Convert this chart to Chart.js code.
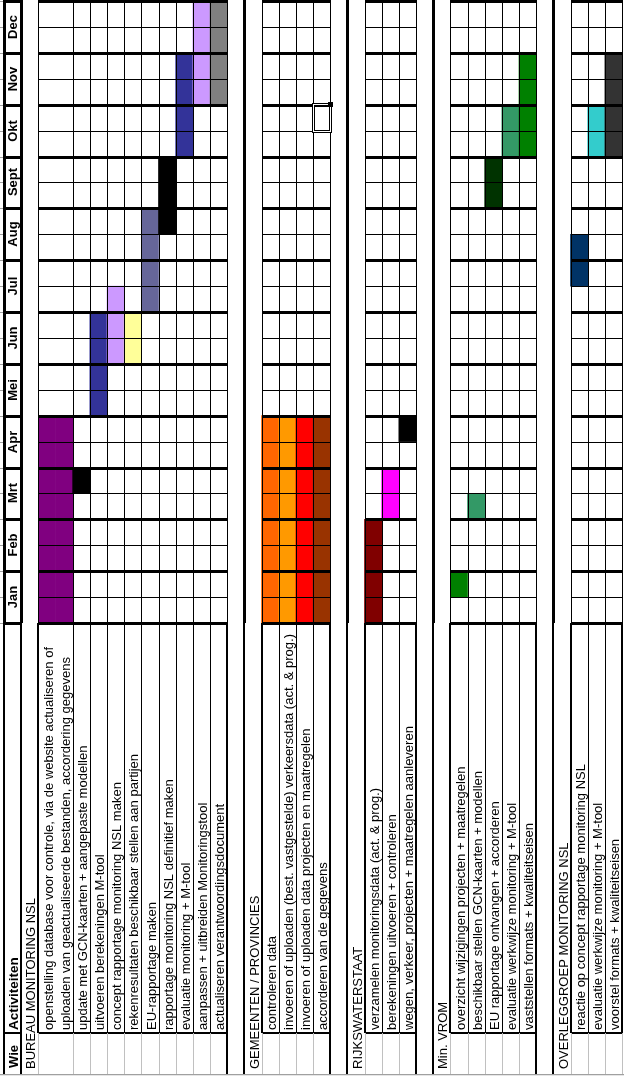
<!DOCTYPE html>
<html>
<head>
<meta charset="utf-8">
<title>Planning monitoring NSL</title>
<script src="https://cdn.jsdelivr.net/npm/chart.js"></script>
<style>
    html, body { margin: 0; padding: 0; background: #fff; }
    canvas { display: block; }
</style>
</head>
<body>
<canvas id="planningChart" width="624" height="1076"></canvas>
<script>
const months = ["Jan", "Feb", "Mrt", "Apr", "Mei", "Jun", "Jul", "Aug", "Sept", "Okt", "Nov", "Dec"];
const columnTitles = ["Wie", "Activiteiten"];

// one entry per spreadsheet row (the long first task wraps over two rows)
const rowLabels = [
    "",
    "BUREAU MONITORING NSL",
    "openstelling database voor controle, via de website actualiseren of",
    "uploaden van geactualiseerde bestanden, accordering gegevens",
    "update met GCN-kaarten + aangepaste modellen",
    "uitvoeren berekeningen M-tool",
    "concept rapportage monitoring NSL maken",
    "rekenresultaten beschikbaar stellen aan partijen",
    "EU-rapportage maken",
    "rapportage monitoring NSL definitief maken",
    "evaluatie monitoring + M-tool",
    "aanpassen + uitbreiden Monitoringstool",
    "actualiseren verantwoordingsdocument",
    "",
    "GEMEENTEN / PROVINCIES",
    "controleren data",
    "invoeren of uploaden (best. vastgestelde) verkeersdata (act. & prog.)",
    "invoeren of uploaden data projecten en maatregelen",
    "accorderen van de gegevens",
    "",
    "RIJKSWATERSTAAT",
    "verzamelen monitoringsdata (act. & prog.)",
    "berekeningen uitvoeren + controleren",
    "wegen, verkeer, projecten + maatregelen aanleveren",
    "",
    "Min. VROM",
    "overzicht wijzigingen projecten + maatregelen",
    "beschikbaar stellen GCN-kaarten + modellen",
    "EU rapportage ontvangen + accorderen",
    "evaluatie werkwijze monitoring + M-tool",
    "vaststellen formats + kwaliteitseisen",
    "",
    "OVERLEGGROEP MONITORING NSL",
    "reactie op concept rapportage monitoring NSL",
    "evaluatie werkwijze monitoring + M-tool",
    "voorstel formats + kwaliteitseisen"
];
const rowKinds = [
    "head", "group", "task", "wrap", "task", "task", "task", "task", "task", "task", "task", "task", "task",
    "blank", "group", "task", "task", "task", "task",
    "blank", "group", "task", "task", "task",
    "blank", "group", "task", "task", "task", "task", "task",
    "blank", "group", "task", "task", "task"
];

// months counted from the start of January (0.5 = half a month)
const barStart = [null, null, 0, 0, 2.5, 4, 5, 5, 6, 7.5, 9, 10, 10, null, null, 0, 0, 0, 0, null, null, 0, 2, 3.5, null, null, 0.5, 2, 8, 9, 9, null, null, 6.5, 9, 9];
const barEnd = [null, null, 4, 4, 3, 6, 6.5, 6, 8, 9, 11, 12, 12, null, null, 4, 4, 4, 4, null, null, 2, 3, 4, null, null, 1, 2.5, 9, 10, 11, null, null, 7.5, 10, 11];
const barColors = [
    null, null, "#800080", "#800080", "#000000", "#333399", "#CC99FF", "#FFFF99", "#666699", "#000000", "#333399", "#CC99FF", "#808080",
    null, null, "#FF6600", "#FF9900", "#FF0000", "#993300",
    null, null, "#800000", "#FF00FF", "#000000",
    null, null, "#008000", "#339966", "#003300", "#339966", "#008000",
    null, null, "#003366", "#33CCCC", "#333333"
];
// active cell left selected in the sheet
const selectedCell = { row: 18, from: 9.5, to: 10 };

const FONT = '13px "Liberation Sans", Arial, sans-serif';
const BOLD = 'bold 13px "Liberation Sans", Arial, sans-serif';
const TEXT_END = 1033;
const WIE_END = 1074;

function vtext(ctx, str, x, y, font, align) {
    ctx.save();
    ctx.translate(x, y);
    ctx.rotate(-Math.PI / 2);
    ctx.font = font;
    ctx.textAlign = align || "left";
    ctx.textBaseline = "alphabetic";
    ctx.fillStyle = "#000";
    ctx.fillText(str, 0, 0);
    ctx.restore();
}

const sheetPlugin = {
    id: "sheet",
    beforeDraw(chart) {
        const ctx = chart.ctx;
        ctx.save();
        ctx.fillStyle = "#fff";
        ctx.fillRect(0, 0, chart.width, chart.height);
        ctx.restore();
    },
    afterDatasetsDraw(chart) {
        const ctx = chart.ctx;
        const xs = chart.scales.x, ys = chart.scales.y;
        const edge = i => Math.round(xs.getPixelForValue(i - 0.5));
        const my = v => Math.round(ys.getPixelForValue(v));
        const top = my(12), bottom = my(0);
        const isCell = k => k === "task" || k === "wrap";
        const n = rowLabels.length;

        const hline = (x0, x1, y, w, c) => { ctx.fillStyle = c; ctx.fillRect(x0, y - Math.floor(w / 2), x1 - x0, w); };
        const vline = (x, y0, y1, w, c) => { ctx.fillStyle = c; ctx.fillRect(x - Math.floor(w / 2), y0, w, y1 - y0); };

        ctx.save();

        // month grid
        for (let i = 0; i < n; i++) {
            const k = rowKinds[i];
            const x0 = edge(i), x1 = edge(i + 1) + 1;
            if (isCell(k)) {
                for (let m = 0; m < 12; m++) hline(x0, x1, my(m + 0.5), 1, "#000");
            }
            if (isCell(k) || k === "head") {
                for (let m = 0; m <= 12; m++) hline(x0, x1, my(m), 3, "#000");
                hline(x0, x1, TEXT_END, 2, "#000");
            }
        }

        // row borders
        for (let b = 0; b <= n; b++) {
            const left = rowKinds[b - 1], right = rowKinds[b];
            if (right === "wrap") continue;
            const x = edge(b);
            const thickTop = b === 0 || right === "group";
            vline(x, top - 1, bottom, thickTop ? 3 : 1, "#000");
            const thickText = !isCell(left) || !isCell(right);
            vline(x, bottom, TEXT_END, thickText ? 2 : 1, "#000");
            if (b <= 1 || left === "blank" || right === "blank") {
                vline(x, TEXT_END, WIE_END, 2, "#000");
            } else {
                vline(x, TEXT_END, WIE_END, 1, "#c0c0c0");
            }
        }

        // sheet edge marks
        for (let h = 0; h <= 24; h++) hline(0, edge(0) - 1, my(h / 2), 1, "#a0a0a0");
        hline(0, chart.width, WIE_END, 1, "#a0a0a0");
        ctx.fillStyle = "#e6e6e6";
        ctx.fillRect(0, WIE_END + 1, chart.width, chart.height - WIE_END - 1);

        // selected cell
        const s = selectedCell;
        const sx0 = edge(s.row), sx1 = edge(s.row + 1), sy0 = my(s.to), sy1 = my(s.from);
        ctx.strokeStyle = "#000";
        ctx.lineWidth = 3;
        ctx.strokeRect(sx0 + 0.5, sy0 - 0.5, sx1 - sx0, sy1 - sy0 + 1);
        ctx.strokeStyle = "#fff";
        ctx.lineWidth = 1;
        ctx.strokeRect(sx0 + 0.5, sy0 - 0.5, sx1 - sx0, sy1 - sy0 + 1);
        ctx.fillStyle = "#000";
        ctx.fillRect(sx1 - 2, sy0 - 3, 5, 5);

        // texts
        const base = i => edge(i + 1) - 3;
        vtext(ctx, columnTitles[0], base(0), 1068, BOLD);
        vtext(ctx, columnTitles[1], base(0), 1030, 'bold 13.5px "Liberation Sans", Arial, sans-serif');
        months.forEach((m, j) => vtext(ctx, m, base(0) - 1, my(j + 0.5), BOLD, "center"));
        for (let i = 1; i < n; i++) {
            if (!rowLabels[i]) continue;
            const startY = rowKinds[i] === "group" ? 1069 : 1030;
            vtext(ctx, rowLabels[i], base(i), startY, FONT);
        }

        ctx.restore();
    }
};

document.addEventListener("DOMContentLoaded", function () {
    const ctx = document.getElementById("planningChart").getContext("2d");
    new Chart(ctx, {
        type: "bar",
        data: {
            labels: rowLabels,
            datasets: [{
                data: rowLabels.map((_, i) => barStart[i] === null ? null : [barStart[i], barEnd[i]]),
                backgroundColor: barColors,
                borderWidth: 0,
                barPercentage: 1,
                categoryPercentage: 1
            }]
        },
        options: {
            responsive: false,
            animation: false,
            layout: { padding: { left: 4, right: 2, top: 1, bottom: 453 } },
            scales: {
                x: { display: false, offset: true },
                y: { display: false, min: 0, max: 12 }
            },
            plugins: {
                legend: { display: false },
                tooltip: { enabled: false }
            }
        },
        plugins: [sheetPlugin]
    });
});
</script>
</body>
</html>
